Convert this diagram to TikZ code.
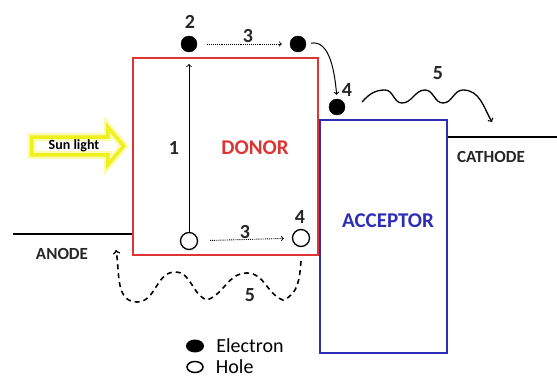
\documentclass[tikz,border=0pt]{standalone}
\usepackage{fontspec}
\setmainfont{Carlito}
\usetikzlibrary{positioning,shapes.arrows,shapes.geometric}
\definecolor{donorred}{RGB}{222,52,52}
\definecolor{accblue}{RGB}{45,45,185}
\definecolor{sunyellow}{RGB}{240,240,30}
\begin{document}
\begin{tikzpicture}[x=1pt,y=1pt,
  electron/.style={circle, fill=black, draw=black, minimum size=16pt, inner sep=0pt},
  hole/.style={circle, draw=black, line width=1.3pt, fill=white, minimum size=17pt, inner sep=0pt},
  num/.style={font=\bfseries\fontsize{20}{20}\selectfont, text=black!85, inner sep=0pt},
  boxlbl/.style={font=\bfseries\fontsize{21}{21}\selectfont, inner sep=0pt},
  lbl/.style={font=\bfseries\fontsize{17}{17}\selectfont, text=black!85, inner sep=0pt},
  legendtxt/.style={font=\fontsize{20}{20}\selectfont, inner sep=0pt},
  hop/.style={->, densely dotted, line width=0.9pt},
]
\useasboundingbox (0,0) rectangle (557,380);
% boxes
\node[draw=donorred, line width=2.2pt, minimum width=185pt, minimum height=197pt] (donor) at (225.5,223.5) {};
\node[draw=accblue, line width=2.2pt, minimum width=127pt, minimum height=233pt] (acceptor) at (383.5,143.5) {};
\node[boxlbl, text=donorred] (dlbl) at (255,232) {DONOR};
\node[boxlbl, text=accblue] (albl) at (388,159) {ACCEPTOR};
% electrodes
\coordinate (anode) at (13,146);
\coordinate (cathode) at (557,243);
\draw[line width=1.8pt] (anode) -- (anode -| donor.west);
\draw[line width=1.8pt] (cathode) -- (cathode -| acceptor.east);
\node[lbl] (alab) at (62,126) {ANODE};
\node[lbl] (clab) at (491,223) {CATHODE};
% sun light
\node[single arrow, draw=sunyellow, line width=3.5pt, preaction={draw=sunyellow!35, line width=8pt},
  minimum height=92pt, single arrow head extend=10pt, single arrow tip angle=100,
  inner xsep=4pt, inner ysep=1pt, anchor=tip, font=\bfseries\fontsize{14}{14}\selectfont] (sun) at (126,234) {Sun light};
% electrons and holes
\node[electron] (e2) at (189,336) {};
\node[electron] (e3) at (298,336) {};
\node[electron] (e4) at (337,273) {};
\node[hole] (h1) at (189,139) {};
\node[hole] (h4) at (301,142) {};
% labels
\node[num] (n2) at (190,358) {2};
\node[num] (n3a) at (248,344) {3};
\node[num] (n3b) at (245,148) {3};
\node[num] (n4a) at (347,290) {4};
\node[num] (n4b) at (300,163) {4};
\node[num] (n1) at (174,232) {1};
\node[num] (n5a) at (438,307) {5};
\node[num] (n5b) at (250,85) {5};
% transitions
\coordinate (t1) at (189,316);
\draw[->, line width=1pt] (h1) -- (t1);
\draw[hop, shorten <=10pt, shorten >=8pt] (e2) -- (e3);
\draw[hop, shorten <=12pt, shorten >=8pt] (h1) -- (h4);
\draw[->, line width=1pt, shorten <=5pt, shorten >=4pt] (e3.east) to[out=10,in=95] (e4.north);
\coordinate (w5) at (492,258);
\draw[->, line width=1.3pt] (e4.east) ++(17,5) to[out=50,in=180] (385,290) to[out=0,in=180] (402,277)
  to[out=0,in=180] (425,290) to[out=0,in=180] (443,277) to[out=0,in=180] (463,290) to[out=0,in=120] (w5);
\coordinate (a5) at (116,130);
\draw[->, dash pattern=on 5pt off 4pt, line width=1.6pt] (h4.south) ++(0,-14) to[out=-95,in=20] (283,80)
  to[out=160,in=0] (247,107) to[out=180,in=20] (207,80) to[out=160,in=0] (175,108)
  to[out=180,in=0] (137,78) to[out=180,in=-80] (a5);
% legend
\node[ellipse, fill=black, minimum width=18pt, minimum height=13pt, inner sep=0pt] (le) at (195,34) {};
\node[ellipse, draw=black, line width=1.5pt, minimum width=16pt, minimum height=11pt, inner sep=0pt] (lh) at (195,13) {};
\node[legendtxt, right=12pt of le] (let) {Electron};
\node[legendtxt, right=12pt of lh] (lht) {Hole};
\end{tikzpicture}
\end{document}
